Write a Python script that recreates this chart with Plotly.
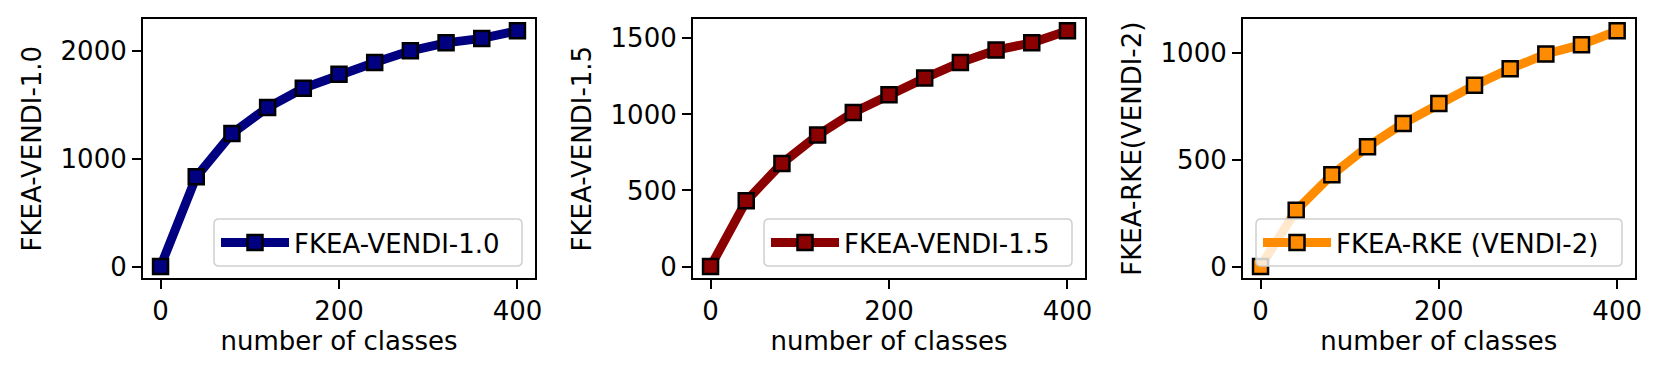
import plotly.graph_objects as go

classes = [0, 40, 80, 120, 160, 200, 240, 280, 320, 360, 400]

vendi_10 = [0, 833, 1235, 1477, 1656, 1786, 1895, 2003, 2077, 2118, 2189]
vendi_15 = [0, 432, 678, 864, 1013, 1129, 1239, 1342, 1423, 1471, 1550]
vendi_2 = [0, 264, 430, 562, 671, 765, 850, 928, 997, 1041, 1106]

names = ['FKEA-VENDI-1.0', 'FKEA-VENDI-1.5', 'FKEA-RKE (VENDI-2)']
ytitles = ['FKEA-VENDI-1.0', 'FKEA-VENDI-1.5', 'FKEA-RKE(VENDI-2)']
colors = ['#000080', '#8b0000', '#ff8c00']
yticks = [[0, 1000, 2000], [0, 500, 1000, 1500], [0, 500, 1000]]
series = [vendi_10, vendi_15, vendi_2]

W, H = 1662, 379
OFF = 8  # page body margin shifts the whole figure
FONT = 'DejaVu Sans'
FS = 26

# pixel boxes measured on the reference
plot_x = [(142.7, 535.3), (692.7, 1085.3), (1242.7, 1635.0)]
plot_y = (19, 278.3)
leg_box = [(214, 522), (764, 1072), (1256, 1622)]
leg_y = (219, 266)


def px(x):
	return (x - OFF) / W


def py(y):
	return 1 - (y - OFF) / H


def rounded_rect(x0, y0, x1, y1, r=5):
	# path in paper coordinates, corners in pixels
	ax, bx = px(x0), px(x1)
	ay, by = py(y0), py(y1)
	rx, ry = r / W, r / H
	return (f'M{ax + rx},{ay} L{bx - rx},{ay} Q{bx},{ay} {bx},{ay - ry} '
		f'L{bx},{by + ry} Q{bx},{by} {bx - rx},{by} '
		f'L{ax + rx},{by} Q{ax},{by} {ax},{by + ry} '
		f'L{ax},{ay - ry} Q{ax},{ay} {ax + rx},{ay} Z')


fig = go.Figure()

for i in range(3):
	n = '' if i == 0 else str(i + 1)
	fig.add_trace(go.Scatter(
		x=classes, y=series[i], name=names[i], mode='lines+markers',
		line=dict(color=colors[i], width=9),
		marker=dict(symbol='square', size=15, color=colors[i], line=dict(color='black', width=2.5)),
		xaxis='x' + n, yaxis='y' + n, legend='legend' + n,
	))

	ymax = max(series[i])
	pad = 0.05 * ymax
	ax = dict(
		showline=True, linecolor='black', linewidth=1.5, mirror=True,
		ticks='outside', ticklen=9, tickwidth=1.5, tickcolor='black',
		showgrid=False, zeroline=False, automargin=False,
		tickfont=dict(family=FONT, size=FS, color='black'),
	)
	fig.update_layout(**{
		'xaxis' + n: dict(ax, domain=[px(plot_x[i][0]), px(plot_x[i][1])], anchor='y' + n,
			range=[-20, 420], tickvals=[0, 200, 400],
			title=dict(text='number of classes', standoff=7, font=dict(family=FONT, size=FS, color='black'))),
		'yaxis' + n: dict(ax, domain=[py(plot_y[1]), py(plot_y[0])], anchor='x' + n,
			range=[-pad, ymax + pad], tickvals=yticks[i],
			title=dict(text=ytitles[i], standoff=11, font=dict(family=FONT, size=FS, color='black'))),
		'legend' + n: dict(x=px(leg_box[i][0] + 2), y=py((leg_y[0] + leg_y[1]) / 2),
			xanchor='left', yanchor='middle', itemwidth=68,
			bgcolor='rgba(0,0,0,0)', borderwidth=0,
			font=dict(family=FONT, size=FS, color='black')),
	})

	# legend frame, semi transparent like matplotlib's
	fig.add_shape(type='path', xref='paper', yref='paper', layer='above',
		path=rounded_rect(leg_box[i][0], leg_y[0], leg_box[i][1], leg_y[1]),
		fillcolor='rgba(255,255,255,0.8)', line=dict(color='#d0d0d0', width=1.5))

fig.update_layout(
	width=W, height=H,
	margin=dict(l=0, r=0, t=0, b=0),
	paper_bgcolor='white', plot_bgcolor='white',
	font=dict(family=FONT, size=FS, color='black'),
	showlegend=True,
)

fig.write_html('out.html')
